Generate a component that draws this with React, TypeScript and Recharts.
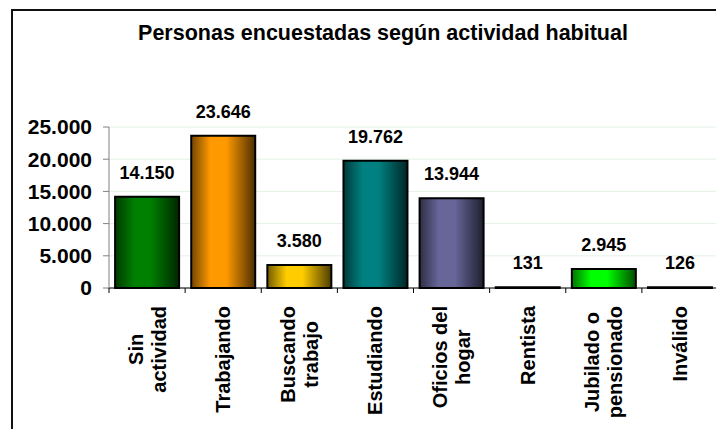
import { BarChart, Bar, XAxis, YAxis, CartesianGrid, LabelList, Cell } from "recharts";

const categories = [
  "Sin\nactividad",
  "Trabajando",
  "Buscando\ntrabajo",
  "Estudiando",
  "Oficios del\nhogar",
  "Rentista",
  "Jubilado o\npensionado",
  "Inválido",
];
const values = [14150, 23646, 3580, 19762, 13944, 131, 2945, 126];
const barColors = ["#008000", "#ff9900", "#ffcc00", "#008080", "#666699", "#333333", "#00ff00", "#333333"];
const yTicks = [0, 5000, 10000, 15000, 20000, 25000];

const FONT = "'Liberation Sans', Arial, sans-serif";

const data = categories.map((c, i) => ({ name: c, value: values[i] }));

const fmt = (v: number) => String(v).replace(/\B(?=(\d{3})+(?!\d))/g, ".");

function shade(hex: string, k: number) {
  const n = parseInt(hex.slice(1), 16);
  const r = Math.round(((n >> 16) & 255) * k);
  const g = Math.round(((n >> 8) & 255) * k);
  const b = Math.round((n & 255) * k);
  return `rgb(${r},${g},${b})`;
}

let ctx: CanvasRenderingContext2D | null = null;
function textWidth(s: string, font: string) {
  if (!ctx) ctx = document.createElement("canvas").getContext("2d");
  if (!ctx) return s.length * 10;
  ctx.font = font;
  return ctx.measureText(s).width;
}

const LABEL_SIZE = 20;
const BAND = 76.1;

const XTick = (props: any) => {
  const { x, y, payload } = props;
  const lines: string[] = String(payload.value).split("\n");
  const widths = lines.map((l) => textWidth(l, `bold ${LABEL_SIZE}px ${FONT}`));
  const maxW = Math.max(...widths);
  const top = y + 10;
  const cy = top + maxW / 2;
  const lh = 23;
  const tx = x - BAND / 2;
  return (
    <g>
      <line x1={tx} x2={tx} y1={y - 8} y2={y - 3} stroke="#000" strokeWidth={1} />
      {lines.map((l, i) => {
        const lx = x + (i - (lines.length - 1) / 2) * lh;
        return (
          <text
            key={i}
            x={lx}
            y={cy}
            transform={`rotate(-90, ${lx}, ${cy})`}
            textAnchor="middle"
            dominantBaseline="central"
            fontFamily={FONT}
            fontWeight="bold"
            fontSize={LABEL_SIZE}
            fill="#000"
          >
            {l}
          </text>
        );
      })}
    </g>
  );
};

const ValueLabel = (props: any) => {
  const { x, y, width, value } = props;
  return (
    <text
      x={x + width / 2}
      y={y - 18}
      textAnchor="middle"
      fontFamily={FONT}
      fontWeight="bold"
      fontSize={18}
      fill="#000"
    >
      {fmt(value)}
    </text>
  );
};

export default function App() {
  return (
    <div
      style={{
        position: "absolute",
        left: 0,
        top: 0,
        width: 716,
        height: 429,
        overflow: "hidden",
        background: "#fff",
      }}
    >
      <div
        style={{
          position: "absolute",
          left: 11,
          top: 9,
          width: 800,
          height: 500,
          borderTop: "2px solid #111",
          borderLeft: "2px solid #111",
        }}
      />
      <div
        style={{
          position: "absolute",
          left: 0,
          width: 766,
          top: 21,
          textAlign: "center",
          fontFamily: FONT,
          fontWeight: "bold",
          fontSize: 21.5,
          color: "#000",
        }}
      >
        Personas encuestadas según actividad habitual
      </div>
      <BarChart
        width={730}
        height={429}
        data={data}
        margin={{ top: 127, right: 12, left: 0, bottom: 0 }}
        barCategoryGap="8%"
        style={{ position: "absolute", left: 0, top: 0 }}
      >
        <defs>
          {barColors.map((c, i) => (
            <linearGradient key={i} id={`grad${i}`} x1="0" y1="0" x2="1" y2="0">
              <stop offset="0%" stopColor={shade(c, 0.45)} />
              <stop offset="30%" stopColor={c} />
              <stop offset="55%" stopColor={c} />
              <stop offset="100%" stopColor={shade(c, 0.3)} />
            </linearGradient>
          ))}
        </defs>
        <CartesianGrid vertical={false} stroke="#e4f2e4" />
        <XAxis
          dataKey="name"
          interval={0}
          height={141}
          axisLine={{ stroke: "#000" }}
          tickLine={false}
          tick={<XTick />}
        />
        <YAxis
          width={109}
          domain={[0, 25000]}
          ticks={yTicks}
          tickFormatter={fmt}
          tickSize={6}
          tickMargin={11}
          axisLine={{ stroke: "#808080" }}
          tickLine={{ stroke: "#808080" }}
          tick={{ fontFamily: FONT, fontWeight: "bold", fontSize: 21, fill: "#000" }}
        />
        <Bar dataKey="value" stroke="#000" strokeWidth={2} isAnimationActive={false}>
          {data.map((_, i) => (
            <Cell key={i} fill={`url(#grad${i})`} />
          ))}
          <LabelList dataKey="value" content={<ValueLabel />} />
        </Bar>
      </BarChart>
    </div>
  );
}
